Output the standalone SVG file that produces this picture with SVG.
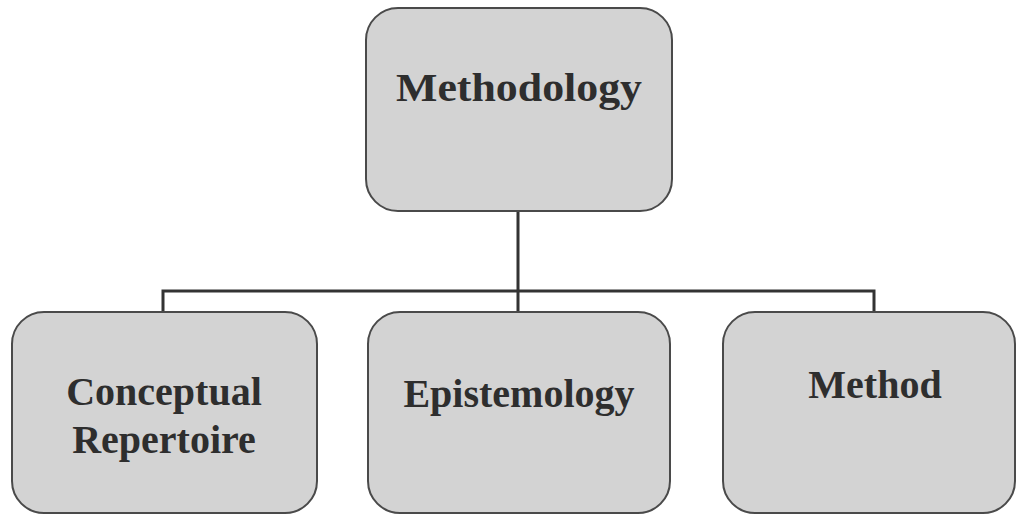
<svg xmlns="http://www.w3.org/2000/svg" width="1016" height="515" viewBox="0 0 1016 515">
<style>
.box{fill:#d3d3d3;stroke:#4a4a4a;stroke-width:2}
.lbl{font-family:"Liberation Serif","Times New Roman",serif;font-weight:bold;font-size:40px;fill:#2e2e2e;text-anchor:middle}
.con{fill:none;stroke:#333;stroke-width:3}
</style>
<rect width="1016" height="515" fill="#ffffff"/>
<g id="connectors">
<path class="con" d="M518 211 V291 M163 312 V291 H874 V312 M518 291 V312"/>
</g>
<g id="methodology">
<rect class="box" x="366" y="8" width="306" height="203" rx="32"/>
<text class="lbl" x="519" y="101" textLength="246" lengthAdjust="spacingAndGlyphs">Methodology</text>
</g>
<g id="conceptual">
<rect class="box" x="12" y="312" width="305" height="201" rx="32"/>
<text class="lbl" x="164" y="405">Conceptual</text>
<text class="lbl" x="164" y="453">Repertoire</text>
</g>
<g id="epistemology">
<rect class="box" x="368" y="312" width="302" height="201" rx="32"/>
<text class="lbl" x="519" y="407">Epistemology</text>
</g>
<g id="method">
<rect class="box" x="723" y="312" width="292" height="201" rx="32"/>
<text class="lbl" x="875" y="398">Method</text>
</g>
</svg>
